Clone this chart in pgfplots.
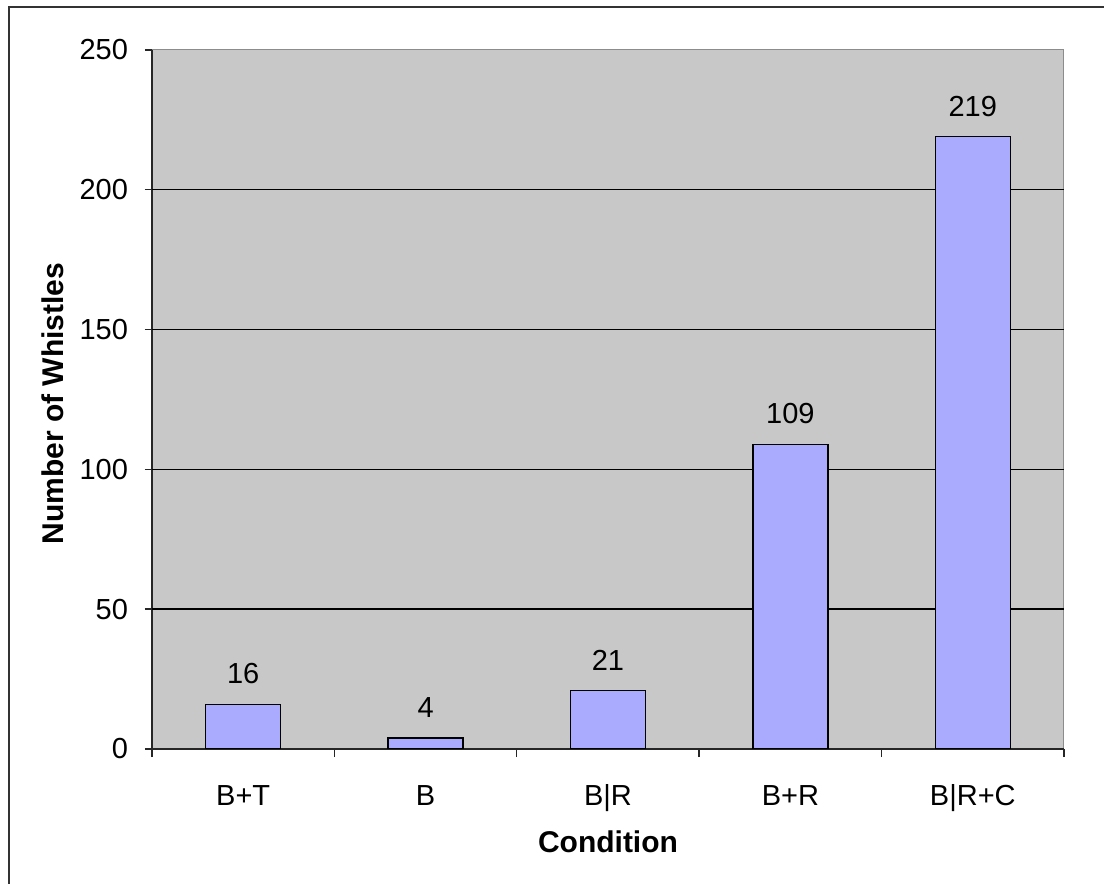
\documentclass[border=0pt]{standalone}
\usepackage{pgfplots}
\pgfplotsset{compat=1.18}
\usepackage{fontspec}
\setmainfont{Liberation Sans}
\definecolor{plotbg}{HTML}{C8C8C8}
\definecolor{barfill}{HTML}{AAAAFF}
\pgfplotsset{/pgf/number format/assume math mode=true}
\newcommand{\lblfont}{\fontsize{14.5}{17}\selectfont}
\newcommand{\titlefont}{\fontsize{15}{18}\selectfont\bfseries}

\begin{document}
\begin{tikzpicture}
\begin{axis}[
  at={(76pt,67.5pt)}, anchor=south west,
  scale only axis, width=456pt, height=349.5pt,
  xmin=-0.5, xmax=4.5, ymin=0, ymax=250,
  axis background/.style={fill=plotbg, draw=black!45, line width=0.5pt},
  axis x line*=bottom, axis y line*=left,
  axis line style={-, black!85, line width=0.8pt},
  ytick={0,50,...,250},
  extra y ticks={50,100,150,200},
  extra y tick labels={},
  extra y tick style={grid=major, major grid style={black, line width=0.7pt}},
  xtick={0,...,4},
  xticklabels={B+T, B, B|R, B+R, B|R+C},
  minor xtick={-0.5,0.5,1.5,2.5,3.5,4.5},
  major x tick style={draw=none},
  tick align=outside,
  major tick length=3.5pt, minor tick length=4pt,
  tick style={black!85, line width=0.7pt},
  yticklabel style={font=\lblfont, anchor=east, xshift=-5pt},
  xticklabel style={font=\lblfont, anchor=base, yshift=-24.5pt},
  xlabel={Condition},
  ylabel={Number of Whistles},
  xlabel style={at={(axis description cs:0.5,-0.133)}, anchor=center, font=\titlefont},
  ylabel style={at={(axis description cs:-0.1086,0.494)}, anchor=center, font=\titlefont},
  ybar, bar width=37.5pt,
  nodes near coords,
  nodes near coords style={font=\lblfont, anchor=south, inner sep=0pt, yshift=9.75pt, black},
]
\addplot[fill=barfill, draw=black, line width=0.7pt]
  coordinates {(0,16) (1,4) (2,21) (3,109) (4,219)};
\end{axis}
\draw[line width=1pt, black!80] (4.5pt,-5pt) -- (4.5pt,438.5pt) -- (560pt,438.5pt);
\pgfresetboundingbox
\useasboundingbox (0,0) rectangle (552pt,442pt);
\end{tikzpicture}
\end{document}
